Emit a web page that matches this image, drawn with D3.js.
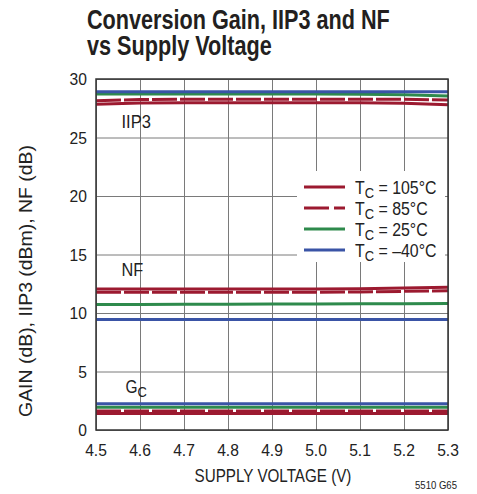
<!DOCTYPE html>
<html>
<head>
<meta charset="utf-8">
<script src="https://cdn.jsdelivr.net/npm/d3@7"></script>
<style>
  body { margin: 0; background: #fff; }
  svg { display: block; }
  text { font-family: "Liberation Sans", Arial, sans-serif; fill: #222; }
</style>
</head>
<body>
<svg id="chart"></svg>
<script>
const width = 477;
const height = 494;
const plotLeft = 96, plotRight = 448, plotTop = 79, plotBottom = 430;

// supply voltage points (V)
const voltages = [4.5, 4.6, 4.7, 4.8, 4.9, 5.0, 5.1, 5.2, 5.3];
const xTicks = ['4.5', '4.6', '4.7', '4.8', '4.9', '5.0', '5.1', '5.2', '5.3'];
const yTicks = [0, 5, 10, 15, 20, 25, 30];

const temps = ['105°C', '85°C', '25°C', '–40°C'];
const colors = ['#9c1a30', '#9c1a30', '#2e8a4c', '#3a54a6'];
const dashed = [false, true, false, false];

// IIP3 (dBm)
const iip3_105 = [27.85, 27.95, 27.97, 27.97, 27.97, 27.97, 27.97, 27.93, 27.8];
const iip3_85 = [28.15, 28.25, 28.27, 28.27, 28.27, 28.27, 28.27, 28.26, 28.2];
const iip3_25 = [28.72, 28.72, 28.72, 28.72, 28.72, 28.72, 28.7, 28.65, 28.55];
const iip3_m40 = [28.92, 28.92, 28.9, 28.9, 28.9, 28.9, 28.9, 28.9, 28.9];

// NF (dB)
const nf_105 = [12.05, 12.05, 12.05, 12.05, 12.05, 12.05, 12.08, 12.14, 12.2];
const nf_85 = [11.77, 11.77, 11.77, 11.77, 11.77, 11.78, 11.8, 11.85, 11.9];
const nf_25 = [10.73, 10.73, 10.74, 10.75, 10.76, 10.77, 10.79, 10.8, 10.82];
const nf_m40 = [9.45, 9.45, 9.45, 9.45, 9.45, 9.45, 9.45, 9.45, 9.45];

// conversion gain (dB)
const gc_105 = [1.42, 1.42, 1.42, 1.42, 1.42, 1.42, 1.42, 1.42, 1.42];
const gc_85 = [1.62, 1.62, 1.62, 1.62, 1.62, 1.62, 1.62, 1.62, 1.62];
const gc_25 = [1.95, 1.95, 1.95, 1.95, 1.95, 1.95, 1.95, 1.95, 1.95];
const gc_m40 = [2.24, 2.24, 2.24, 2.24, 2.24, 2.24, 2.24, 2.24, 2.24];

const groups = [
  [iip3_105, iip3_85, iip3_25, iip3_m40],
  [nf_105, nf_85, nf_25, nf_m40],
  [gc_105, gc_85, gc_25, gc_m40]
];

const svg = d3.select('#chart').attr('width', width).attr('height', height);

const x = d3.scaleLinear().domain([4.5, 5.3]).range([plotLeft, plotRight]);
const y = d3.scaleLinear().domain([0, 30]).range([plotBottom, plotTop]);

// no narrow font installed, so squeeze text horizontally
function txt(parent, px, py, size, anchor, str, rot) {
  const t = parent.append('text').attr('text-anchor', anchor || 'start').style('font-size', size + 'px');
  if (str !== undefined) t.text(str);
  t.datum({px: px, py: py, rot: rot || 0});
  return t;
}
function squeeze(t, s) {
  const d = t.datum();
  t.attr('transform', `translate(${d.px},${d.py}) rotate(${d.rot}) scale(${s},1)`);
  return t;
}
function fit(t, w) {
  return squeeze(t, w / t.node().getComputedTextLength());
}

// title
const t1 = txt(svg, 87, 29, 27, 'start', 'Conversion Gain, IIP3 and NF')
  .style('font-weight', 'bold').style('fill', '#231f20');
fit(t1, 303);
const titleScale = 303 / t1.node().getComputedTextLength();
squeeze(txt(svg, 87, 55, 27, 'start', 'vs Supply Voltage')
  .style('font-weight', 'bold').style('fill', '#231f20'), titleScale);

// grid
const xGrid = svg.append('g').attr('transform', `translate(0, ${plotBottom})`)
  .call(d3.axisBottom(x).tickValues(voltages).tickSize(-(plotBottom - plotTop)).tickFormat(''));
const yGrid = svg.append('g').attr('transform', `translate(${plotLeft}, 0)`)
  .call(d3.axisLeft(y).tickValues(yTicks).tickSize(-(plotRight - plotLeft)).tickFormat(''));
[xGrid, yGrid].forEach(g => {
  g.select('.domain').remove();
  g.selectAll('line').attr('stroke', '#7a7a7a').attr('stroke-width', 1);
});

// tick labels
voltages.forEach((v, i) => squeeze(txt(svg, x(v), 456, 17, 'middle', xTicks[i]), 0.92));
yTicks.forEach(v => squeeze(txt(svg, 87, y(v) + 6, 17, 'end', String(v)), 0.92));

// axis titles
fit(txt(svg, 273, 482, 17.5, 'middle', 'SUPPLY VOLTAGE (V)'), 157);
fit(txt(svg, 32, 281, 18, 'middle', 'GAIN (dB), IIP3 (dBm), NF (dB)', -90), 272);
fit(txt(svg, 457, 489, 11, 'end', '5510 G65'), 42);

// curve labels
fit(txt(svg, 121.5, 128, 19, 'start', 'IIP3'), 29.5);
squeeze(txt(svg, 121.5, 276, 19, 'start', 'NF'), 0.86);
const gcLabel = txt(svg, 125.5, 393, 18, 'start');
gcLabel.append('tspan').text('G');
gcLabel.append('tspan').attr('dy', 4).style('font-size', '15px').text('C');
squeeze(gcLabel, 0.86);

// legend background hides grid
const legend = svg.append('g');
legend.append('rect').attr('x', 297).attr('y', 171).attr('width', 148).attr('height', 91).attr('fill', '#fff');

const line = d3.line().x((d, i) => x(voltages[i])).y(d => y(d));

groups.forEach(series => {
  series.forEach((vals, k) => {
    if (dashed[k]) {
      svg.append('path').datum(vals).attr('d', line)
        .attr('fill', 'none').attr('stroke', '#fff').attr('stroke-width', 2);
    }
    svg.append('path').datum(vals).attr('d', line)
      .attr('fill', 'none').attr('stroke', colors[k]).attr('stroke-width', 3)
      .attr('stroke-dasharray', dashed[k] ? '25,3' : null);
  });
});

// border
svg.append('rect').attr('x', plotLeft).attr('y', plotTop).attr('width', plotRight - plotLeft).attr('height', plotBottom - plotTop)
  .attr('fill', 'none').attr('stroke', '#333').attr('stroke-width', 1.5);

// legend
temps.forEach((t, k) => {
  const ly = 187 + k * 21;
  legend.append('line').attr('x1', 304).attr('x2', 345).attr('y1', ly).attr('y2', ly)
    .attr('stroke', colors[k]).attr('stroke-width', 3)
    .attr('stroke-dasharray', dashed[k] ? '25,5' : null);
  const lt = txt(legend, 355, ly + 6.5, 18.5, 'start');
  lt.append('tspan').text('T');
  lt.append('tspan').attr('dy', 4).style('font-size', '15px').text('C');
  lt.append('tspan').attr('dy', -4).text(' = ' + t);
  squeeze(lt, 0.86);
});
</script>
</body>
</html>
